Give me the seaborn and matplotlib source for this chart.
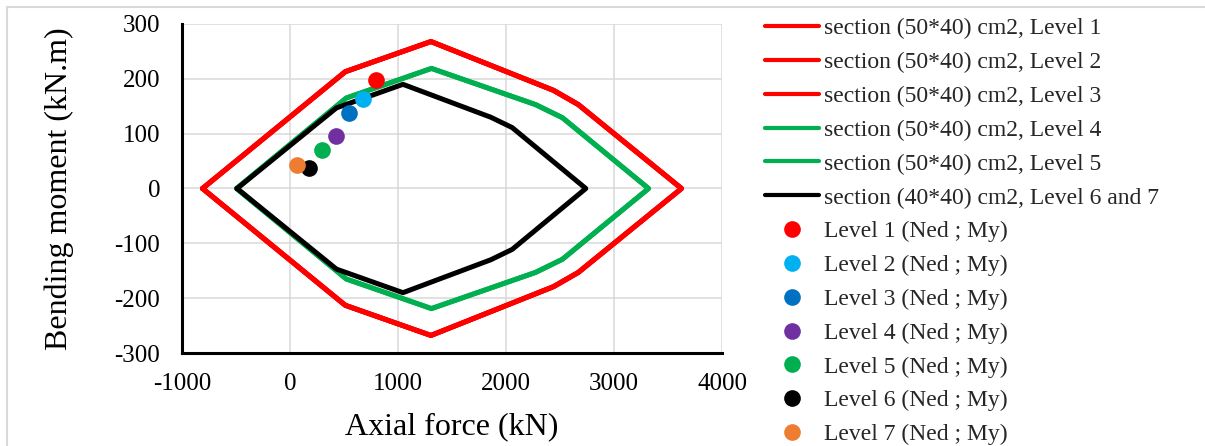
import matplotlib
matplotlib.use("Agg")
import matplotlib.pyplot as plt
from matplotlib.lines import Line2D
import seaborn as sns
import pandas as pd

# Interaction diagrams (N-M envelopes), closed polygons
section_labels = [
    "section (50*40) cm2, Level 1",
    "section (50*40) cm2, Level 2",
    "section (50*40) cm2, Level 3",
    "section (50*40) cm2, Level 4",
    "section (50*40) cm2, Level 5",
    "section (40*40) cm2, Level 6 and 7",
]
section_colors = ["#FF0000", "#FF0000", "#FF0000", "#00B050", "#00B050", "#000000"]

# Section 50*40, levels 1-3
n_lvl123 = [-810, 512, 1305, 2440, 2670, 3625, 2670, 2440, 1305, 512, -810]
m_lvl123 = [0, 213, 268, 179, 153, 0, -153, -179, -268, -213, 0]
# Section 50*40, levels 4-5
n_lvl45 = [-495, 521, 1310, 2274, 2523, 3320, 2523, 2274, 1310, 521, -495]
m_lvl45 = [0, 165, 219, 153, 129, 0, -129, -153, -219, -165, 0]
# Section 40*40, levels 6-7
n_lvl67 = [-490, 430, 1046, 1859, 2058, 2739, 2058, 1859, 1046, 430, -490]
m_lvl67 = [0, 147, 190, 130, 111, 0, -111, -130, -190, -147, 0]

section_n = [n_lvl123, n_lvl123, n_lvl123, n_lvl45, n_lvl45, n_lvl67]
section_m = [m_lvl123, m_lvl123, m_lvl123, m_lvl45, m_lvl45, m_lvl67]

# Design actions per level (Ned ; My)
point_labels = [f"Level {i} (Ned ; My)" for i in range(1, 8)]
point_colors = ["#FF0000", "#00B0F0", "#0070C0", "#7030A0", "#00B050", "#000000", "#ED7D31"]
ned = [797, 672, 547, 422, 297, 172, 62]
my = [198, 163, 137, 95, 71, 38, 42]

x_ticks = [-1000, 0, 1000, 2000, 3000, 4000]
y_ticks = [-300, -200, -100, 0, 100, 200, 300]

sns.set_theme(style="white")
plt.rcParams["font.family"] = ["Liberation Serif", "DejaVu Serif"]
plt.rcParams["axes.unicode_minus"] = False

W, H = 1205, 446
fig = plt.figure(figsize=(W / 100, H / 100), dpi=100)
ax = fig.add_axes([182 / W, 1 - 353 / H, (722 - 182) / W, (353 - 24) / H])

rows = []
for lab, ns, ms in zip(section_labels, section_n, section_m):
    for k, (n, m) in enumerate(zip(ns, ms)):
        rows.append({"curve": lab, "order": k, "N": n, "M": m})
curves = pd.DataFrame(rows)

sns.lineplot(data=curves, x="N", y="M", hue="curve", hue_order=section_labels,
             palette=dict(zip(section_labels, section_colors)),
             sort=False, estimator=None, units="curve", linewidth=3.6,
             ax=ax, legend=False, zorder=3)

pts = pd.DataFrame({"level": point_labels, "N": ned, "M": my})
for lab, col in zip(point_labels, point_colors):
    sns.scatterplot(data=pts[pts["level"] == lab], x="N", y="M", color=col,
                    s=144, linewidth=0, ax=ax, legend=False, zorder=4)

ax.set_xlim(-1000, 4000)
ax.set_ylim(-300, 300)
ax.set_xticks(x_ticks)
ax.set_yticks(y_ticks)
ax.grid(True, color="#D9D9D9", linewidth=1.1)
ax.set_axisbelow(True)
for s in ["top", "right"]:
    ax.spines[s].set_visible(False)
for s in ["left", "bottom"]:
    ax.spines[s].set_color("black")
    ax.spines[s].set_linewidth(2.2)
    ax.spines[s].set_zorder(5)
ax.tick_params(axis="both", direction="inout", length=11.5, width=2.2,
               color="black", labelsize=18, labelcolor="black")
ax.tick_params(axis="x", pad=9)
ax.tick_params(axis="y", pad=10)
ax.set_xlabel("Axial force (kN)", fontsize=23, color="black", labelpad=12)
ax.set_ylabel("Bending moment (kN.m)", fontsize=23, color="black", labelpad=29)

handles = [Line2D([], [], color=c, linewidth=3.0) for c in section_colors]
handles += [Line2D([], [], color=c, linestyle="none", marker="o",
                   markersize=12, markeredgewidth=0) for c in point_colors]
labels = section_labels + point_labels
fig.legend(handles, labels, loc="upper left",
           bbox_to_anchor=(765 / W, 1 - 18 / H), frameon=False,
           fontsize=17, borderpad=0, borderaxespad=0, handlelength=2.3,
           handletextpad=0.2, labelspacing=0.52)

# Chart area border
fig.add_artist(Line2D([7 / W, 1], [1 - 7 / H, 1 - 7 / H], color="#D9D9D9",
                      linewidth=1.5, transform=fig.transFigure))
fig.add_artist(Line2D([7 / W, 7 / W], [0, 1 - 7 / H], color="#D9D9D9",
                      linewidth=1.5, transform=fig.transFigure))

fig.savefig("out.png", dpi=100, facecolor="white")
